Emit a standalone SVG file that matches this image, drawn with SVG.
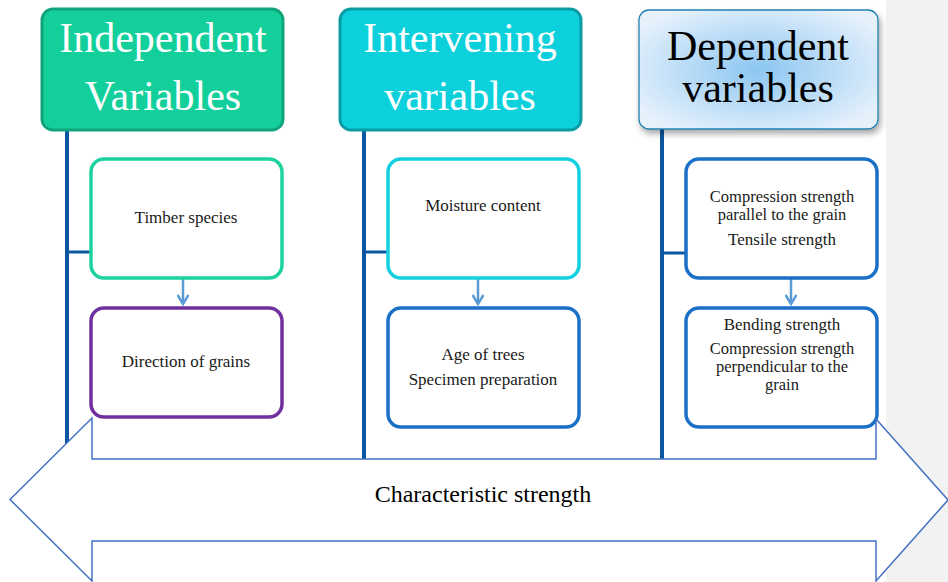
<svg xmlns="http://www.w3.org/2000/svg" width="948" height="582" viewBox="0 0 948 582">
<style>
.hd{font-family:"Liberation Serif","Times New Roman",serif;font-size:42px;text-anchor:middle}
.tx{font-family:"Liberation Serif","Times New Roman",serif;font-size:17px;fill:#1a1a1a;text-anchor:middle}
.tt{font-size:16.5px}
.big{font-family:"Liberation Serif","Times New Roman",serif;font-size:24px;fill:#000;text-anchor:middle}
.box{fill:#fff;stroke-width:3.5}
.trunk{stroke:#0d57a0;stroke-width:4;fill:none}
.branch{stroke:#0d57a0;stroke-width:3;fill:none}
.flow{stroke:#5b9bd5;stroke-width:2.5;fill:none}
</style>
<defs>
<radialGradient id="dg" cx="50%" cy="50%" r="60%">
<stop offset="0" stop-color="#8cc6f1"/>
<stop offset="1" stop-color="#e6f1fc"/>
</radialGradient>
<filter id="sh" x="-10%" y="-10%" width="125%" height="130%">
<feDropShadow dx="2" dy="4" stdDeviation="3" flood-color="#000" flood-opacity="0.35"/>
</filter>
<marker id="chev" markerWidth="12" markerHeight="12" refX="10" refY="6" orient="auto" markerUnits="userSpaceOnUse">
<path d="M1,0.5 L10,6 L1,11.5" fill="none" stroke="#5b9bd5" stroke-width="2.5"/>
</marker>
</defs>
<rect x="0" y="0" width="948" height="582" fill="#fff"/>
<rect x="886" y="0" width="62" height="582" fill="#f2f2f2"/>
<g id="connectors">
<line class="trunk" x1="67" y1="129" x2="67" y2="460"/>
<line class="trunk" x1="364" y1="129" x2="364" y2="460"/>
<line class="trunk" x1="662" y1="129" x2="662" y2="460"/>
<line class="branch" x1="67" y1="252" x2="90" y2="252"/>
<line class="branch" x1="364" y1="252" x2="388" y2="252"/>
<line class="branch" x1="662" y1="253" x2="686" y2="253"/>
<line class="flow" x1="183" y1="279" x2="183" y2="304" marker-end="url(#chev)"/>
<line class="flow" x1="478" y1="279" x2="478" y2="304" marker-end="url(#chev)"/>
<line class="flow" x1="791" y1="279" x2="791" y2="304" marker-end="url(#chev)"/>
</g>
<g id="independent">
<rect x="42" y="9" width="241" height="121" rx="11" fill="#12cf9b" stroke="#10a37c" stroke-width="3"/>
<text class="hd" x="163" y="52" fill="#fff">Independent</text>
<text class="hd" x="163" y="110" fill="#fff">Variables</text>
</g>
<g id="intervening">
<rect x="340" y="9" width="241" height="121" rx="11" fill="#0cd0dc" stroke="#0a9ca4" stroke-width="3"/>
<text class="hd" x="460" y="52" fill="#fff">Intervening</text>
<text class="hd" x="460" y="110" fill="#fff">variables</text>
</g>
<g id="dependent">
<rect x="639" y="10" width="239" height="119" rx="10" fill="url(#dg)" stroke="#2281b0" stroke-width="1.3" filter="url(#sh)"/>
<text class="hd" x="758" y="60" fill="#000">Dependent</text>
<text class="hd" x="758" y="102" fill="#000">variables</text>
</g>
<g id="timber">
<rect class="box" x="91" y="159" width="191" height="119" rx="13" stroke="#1cd3a0"/>
<text class="tx" x="186" y="223">Timber species</text>
</g>
<g id="grains">
<rect class="box" x="91" y="308" width="191" height="109" rx="13" stroke="#7030a0"/>
<text class="tx" x="186" y="367">Direction of grains</text>
</g>
<g id="moisture">
<rect class="box" x="388" y="159" width="191" height="119" rx="13" stroke="#13cfe0"/>
<text class="tx" x="483" y="211">Moisture content</text>
</g>
<g id="age">
<rect class="box" x="388" y="308" width="191" height="119" rx="13" stroke="#1a6fc6"/>
<text class="tx" x="483" y="360">Age of trees</text>
<text class="tx" x="483" y="385">Specimen preparation</text>
</g>
<g id="compression">
<rect class="box" x="686" y="159" width="191" height="119" rx="13" stroke="#1a6fc6"/>
<text class="tx tt" x="782" y="202">Compression strength</text>
<text class="tx tt" x="782" y="220">parallel to the grain</text>
<text class="tx" x="782" y="245">Tensile strength</text>
</g>
<g id="bending">
<rect class="box" x="686" y="308" width="191" height="119" rx="13" stroke="#1a6fc6"/>
<text class="tx" x="782" y="330">Bending strength</text>
<text class="tx tt" x="782" y="354">Compression strength</text>
<text class="tx tt" x="782" y="372">perpendicular to the</text>
<text class="tx tt" x="782" y="390">grain</text>
</g>
<g id="characteristic">
<polygon points="10,499.5 92,418 92,459 876,459 876,419 948,500 876,581 876,541 92,541 92,581" fill="#fff" stroke="#4472c4" stroke-width="1.5"/>
<text class="big" x="483" y="502">Characteristic strength</text>
</g>
</svg>
